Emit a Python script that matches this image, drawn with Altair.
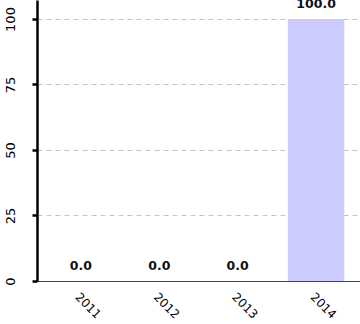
import altair as alt
import pandas as pd

years = ["2011", "2012", "2013", "2014"]
values = [0.0, 0.0, 0.0, 100.0]
labels = ["0.0", "0.0", "0.0", "100.0"]

df = pd.DataFrame({"year": years, "value": values, "label": labels})

x = alt.X("year:N", title=None, sort=years,
          scale=alt.Scale(paddingInner=0.28, paddingOuter=0.2),
          axis=alt.Axis(labelAngle=45, labelAlign="left", labelBaseline="top",
                        labelFont="DejaVu Sans", labelFontSize=12, labelColor="#000",
                        labelPadding=10, ticks=False, domainColor="#444", domainWidth=1,
                        grid=False))
y = alt.Y("value:Q", title=None,
          scale=alt.Scale(domain=[0, 107.25], nice=False),
          axis=alt.Axis(values=[0, 25, 50, 75, 100], labelAngle=-90,
                        labelAlign="center", labelBaseline="bottom",
                        labelFont="DejaVu Sans", labelFontSize=13, labelColor="#000",
                        labelPadding=15, tickSize=5, tickWidth=2.5, tickColor="#000",
                        domainColor="#000", domainWidth=2.5,
                        grid=True, gridColor="#c4c4c4", gridDash=[5, 4], gridWidth=1))

bars = alt.Chart(df).mark_bar(color="#ccccff", clip=True).encode(x=x, y=y)
text = alt.Chart(df).mark_text(font="DejaVu Sans", fontSize=12.5, fontWeight="bold",
                               baseline="bottom", dy=-8, color="#111", clip=True).encode(
    x=alt.X("year:N", sort=years), y=alt.Y("value:Q"), text="label:N")

chart = (bars + text).properties(
    width=323, height=281,
    autosize=alt.AutoSizeParams(type="none"),
    padding={"left": 37, "top": 0, "right": 0, "bottom": 43},
).configure_view(stroke=None)

chart.save("out.html", embed_options={"renderer": "svg", "actions": False})
